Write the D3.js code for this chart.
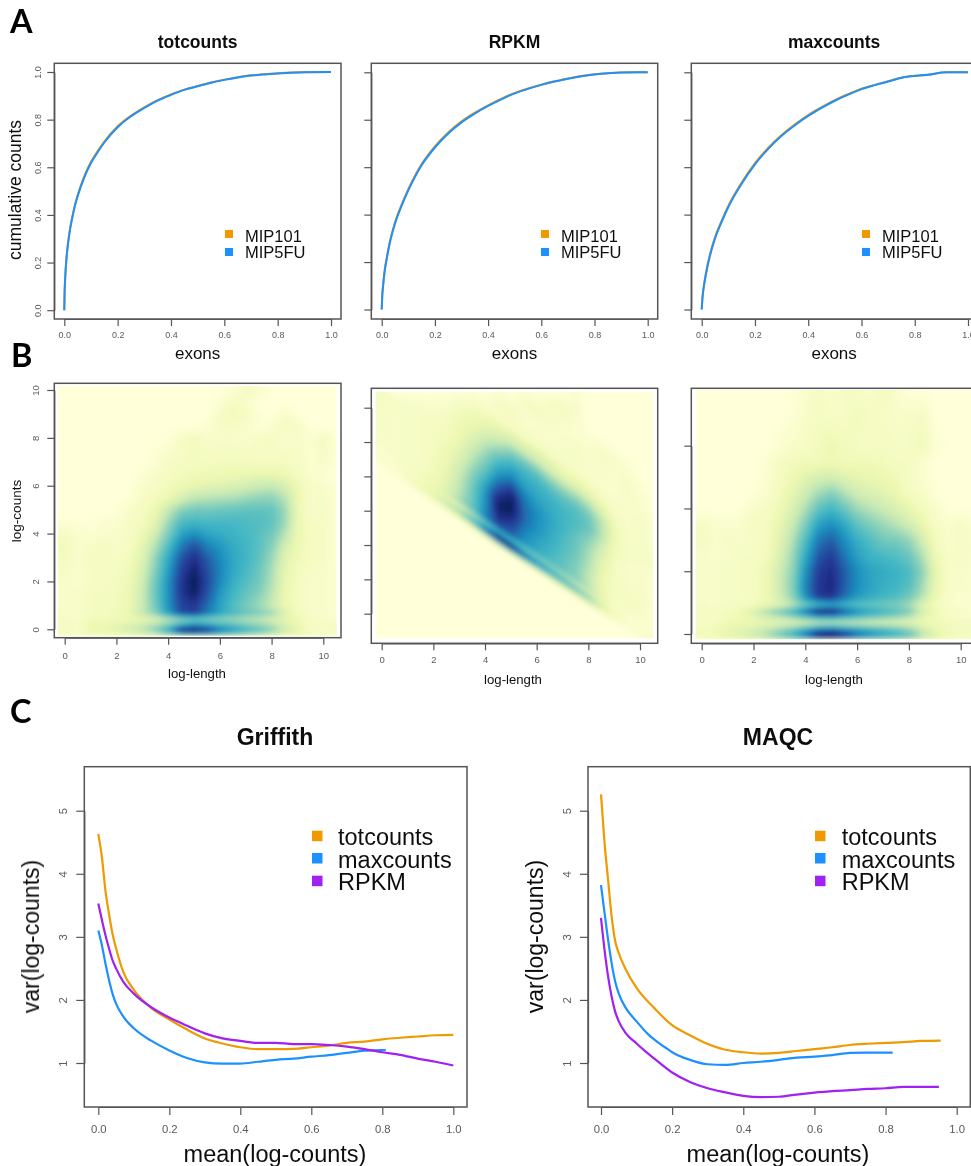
<!DOCTYPE html>
<html><head><meta charset="utf-8">
<script src="https://cdn.jsdelivr.net/npm/d3@7/dist/d3.min.js"></script>
<style>
html,body{margin:0;padding:0;background:#fff;overflow:hidden}
svg{display:block}
text{font-family:"Liberation Sans",Arial,sans-serif}
</style></head><body>
<script>
// ---------- Panel A: cumulative counts ----------
const seriesA = ["MIP101", "MIP5FU"];
const xTot = [0,.001,.002,.005,.01,.02,.03,.04,.05,.075,.1,.125,.15,.2,.25,.3,.35,.4,.45,.5,.55,.6,.65,.7,.75,.8,.85,.9,1];
const totMIP101 = [0,.075,.105,.172,.243,.333,.393,.443,.483,.563,.623,.668,.708,.772,.817,.852,.882,.906,.926,.941,.956,.968,.978,.986,.991,.995,.998,.999,1];
const totMIP5FU = [0,.07,.1,.168,.238,.328,.388,.438,.478,.558,.618,.663,.704,.768,.814,.849,.88,.904,.925,.94,.955,.967,.977,.985,.99,.994,.997,.999,1];
const xRpkm = [0,.002,.005,.01,.02,.03,.05,.075,.1,.15,.2,.25,.3,.35,.4,.45,.5,.55,.6,.65,.7,.75,.8,.85,.9,1];
const rpkmMIP101 = [0,.06,.1,.156,.226,.283,.368,.443,.507,.613,.688,.746,.793,.83,.861,.889,.913,.932,.948,.962,.974,.984,.992,.996,.999,1];
const rpkmMIP5FU = [0,.055,.095,.15,.22,.278,.362,.438,.502,.608,.683,.742,.789,.826,.858,.886,.911,.93,.947,.961,.973,.983,.991,.996,.999,1];
const xMax = [0,.002,.005,.01,.02,.03,.05,.075,.1,.15,.2,.25,.3,.35,.4,.45,.5,.55,.6,.65,.7,.76,.85,.92,1];
const maxMIP101 = [0,.04,.075,.115,.178,.228,.305,.375,.437,.535,.617,.682,.736,.781,.82,.853,.883,.908,.931,.947,.962,.98,.99,1,1];
const maxMIP5FU = [0,.035,.07,.11,.172,.222,.3,.37,.432,.53,.612,.677,.732,.777,.816,.85,.88,.906,.929,.946,.961,.979,.99,1,1];
const ticksA = [0,.2,.4,.6,.8,1];

// ---------- Panel B: smoothed density, one row per log-count level ----------
const logLengthColumns = [0,.5,1,1.5,2,2.5,3,3.5,4,4.5,5,5.5,6,6.5,7,7.5,8,8.5,9,9.5,10,10.5];
const levelsTot = [10.3,10,9.5,9,8.5,8,7,6.5,6,5.5,5,4.5,4,3.5,3,2.5,2,1.5,1,.7,.45,.2,0,-.15,-.3];
const densityTot = [
[0,0,0,0,0,0,0,0,0,0,0,0,0,0,.4,.2,0,0,0,0,0,0],
[0,0,0,0,0,0,0,0,0,0,0,0,0,.2,.6,.4,0,0,0,0,0,0],
[0,0,0,0,0,0,0,0,0,0,0,0,.2,.5,.4,0,0,0,0,0,0,0],
[0,0,0,0,0,0,0,0,0,0,0,0,.5,.8,.5,.2,0,.4,0,0,0,0],
[0,0,0,0,0,0,0,0,0,0,0,.2,.5,.5,.4,.1,.3,.6,.5,0,0,0],
[0,0,0,0,0,0,0,0,.1,.5,.7,.4,.4,.4,.3,.5,.5,.3,.4,.2,.6,.1],
[0,0,0,0,0,0,0,.2,.5,.6,.6,.6,.7,.7,.7,.6,.6,.6,.5,.3,.4,.1],
[0,0,0,0,0,0,.2,.4,.6,.7,.8,.9,.9,1,1,1.1,1.1,.9,.6,.3,.2,0],
[0,0,0,0,0,0,.4,.5,.7,1,1.2,1.3,1.4,1.5,1.7,1.9,2,1.6,.9,.4,.4,.1],
[0,0,0,0,0,.1,.5,.7,1,1.6,2.1,2.2,2.3,2.4,2.6,2.8,2.8,2.2,1,.4,.5,.2],
[0,0,0,0,.1,.4,.6,1,2,2.9,3.2,3.2,3.3,3.4,3.5,3.5,3.4,2.6,1,.4,.5,.2],
[.1,.1,.1,.2,.3,.5,.7,1.3,2.6,3.8,4,3.9,3.9,3.9,3.8,3.7,3.5,2.6,1,.5,.6,.2],
[.5,.3,.2,.3,.4,.5,.9,1.8,3.1,4.6,5,4.5,4.3,4.1,3.9,3.6,3.2,2.2,1,.6,.5,.2],
[.7,.3,.5,.6,.4,.6,1.2,2.3,3.8,5.4,6.3,5.3,4.8,4.3,4,3.6,2.9,1.7,.9,.6,.5,.2],
[.6,.3,.6,.6,.5,.7,1.4,2.8,4.4,6.2,7.2,6,5.1,4.4,4,3.5,2.6,1.4,.8,.6,.5,.2],
[.5,.3,.5,.5,.6,.8,1.6,3,4.7,6.7,7.7,6.3,5.2,4.4,3.9,3.3,2.4,1.2,.7,.5,.4,.2],
[.4,.3,.5,.6,.6,.9,1.8,3.3,5,7,8,6.5,5.1,4.2,3.7,3.2,2.3,1.1,.6,.4,.4,.2],
[.4,.4,.6,.6,.7,1,1.9,3.4,5,7,7.8,6.2,4.8,4,3.4,2.9,2.1,1,.6,.4,.4,.2],
[.4,.4,.6,.6,.7,1,1.9,3.2,5,6.6,6.9,5.7,4.5,3.7,3.1,2.6,1.9,1,.6,.4,.4,.2],
[.4,.4,.6,.6,.8,1.2,2,3,4.7,6.5,6.8,5.5,4.5,3.9,3.4,3,2.6,1.5,.7,.4,.4,.2],
[.5,.4,.7,.7,.8,.9,1.1,1.5,2.2,2.8,3.2,3,2.8,2.6,2.3,2.1,1.7,1.2,.8,.5,.4,.3],
[.6,.4,1,1,1.2,1.5,1.8,2.3,3,4.2,5,4.6,4,3.6,3,2.7,2.2,1.5,1,.5,.5,.5],
[.6,.5,1,1,1.3,1.7,2.2,3,4.5,7.6,8,7,5.5,4.8,4.2,3.6,2.9,1.8,1.2,.6,.5,.6],
[.5,.4,.8,.9,1,1.2,1.6,2.2,3.2,5,5.5,5,4.2,3.6,3,2.6,2,1.4,1,.5,.5,.5],
[.3,.3,.5,.5,.6,.7,.9,1.1,1.6,2.2,2.5,2.3,2,1.8,1.5,1.3,1.1,.8,.6,.4,.4,.4]
];
const levelsRpkm = [14,11,10.5,10,9,8,7,6.5,6,5.5,5,4.5,4,3.5,3,2.5,2,1.5,1,.7,.45,.2,0,-.2,-.5];
const densityRpkm = [
[0,0,0,0,0,0,0,0,0,0,0,0,0,0,0,0,0,0,0,0,0,0],
[0,0,0,0,0,0,0,0,0,0,0,0,0,0,0,.3,0,0,0,0,0,0],
[0,0,0,0,0,0,0,0,0,0,0,0,0,0,.4,.5,0,0,0,0,0,0],
[0,0,0,0,0,0,0,0,0,0,0,0,0,.5,.6,.3,0,0,0,0,0,0],
[0,0,0,0,0,0,0,0,0,0,0,.5,.6,.5,.3,.3,.3,.5,.4,.3,0,0],
[0,0,0,0,0,0,0,0,0,.5,.6,.3,.3,.3,.4,.5,.4,.4,.3,.5,.3,0],
[0,0,0,0,0,0,0,.4,.5,.5,.5,.5,.5,.5,.5,.5,.4,.3,.3,.4,.4,.2],
[0,0,0,0,0,0,.5,.7,.9,1.1,1.3,1.3,1.3,1.2,.9,.9,.8,.6,.4,.4,.5,.3],
[0,0,0,0,0,.3,.7,.9,1.2,1.5,1.9,1.9,1.8,1.6,1.4,1.4,1.3,1,.5,.4,.5,.2],
[0,0,0,0,.2,.5,.8,1.1,1.6,2.2,3,3.1,3,2.6,2.4,2.5,2.2,1.5,.7,.4,.5,.3],
[0,0,0,.3,.4,.6,.9,1.3,2.1,3,3.8,3.9,3.8,3.5,3.3,3.3,3,2.1,.9,.4,.5,.5],
[0,0,.4,.5,.5,.6,1,1.6,2.6,3.8,4.6,4.3,4.2,4,3.8,3.7,3.3,2.2,.9,.5,.5,.5],
[.6,.5,.5,.5,.6,.7,1.1,2,3,4.5,5.3,4.7,4.4,4.2,4,3.8,3.3,2.1,.8,.5,.4,.3],
[.6,.4,.5,.5,.6,.8,1.3,2.3,3.5,5.2,6.5,5.3,4.7,4.4,4,3.6,2.9,1.7,.7,.4,.4,.3],
[.5,.4,.5,.5,.6,.9,1.5,2.7,4,6.1,7.6,5.6,5,4.5,4,3.4,2.6,1.5,.6,.4,.4,.3],
[.5,.4,.5,.5,.6,1,1.8,3,4.6,7.2,8,5.8,5,4.4,3.8,3.3,2.4,1.2,.6,.4,.4,.3],
[.5,.4,.5,.5,.7,1.1,2,3.2,4.9,7.8,7.8,5.7,4.9,4.3,3.7,3.2,2.3,1.1,.6,.5,.5,.3],
[.4,.4,.5,.5,.7,1.2,2.1,3.3,5,7.6,7,5.3,4.6,4.1,3.6,3,2.1,1,.6,.6,.5,.2],
[.4,.4,.5,.6,.8,1.3,2.3,3.4,5.1,6.8,6.2,5,4.4,3.9,3.4,2.9,2,1,.5,.5,.4,.2],
[.3,.4,.5,.6,1,1.6,2.5,3.5,5.3,6.2,5.8,4.8,4.3,3.8,3.5,3,2.3,1.2,.5,.4,.3,.2],
[.3,.3,.5,.6,.8,1.1,1.5,2.2,3.2,3.9,3.8,3.3,3,2.8,2.5,2.2,1.7,1,.5,.3,.3,.3],
[.3,.3,.5,.8,1.1,1.6,2.2,3.2,4.5,6,5.8,4.6,4.2,3.8,3.2,2.7,2.2,1.3,.6,.3,.3,.5],
[.3,.3,.6,.9,1.2,1.9,2.6,3.8,6,7.8,7.8,6,5,4.4,4,3.5,2.8,1.6,.7,.3,.3,.5],
[.1,.2,.3,.5,.7,1,1.3,2,3,4,4,3.3,2.7,2.3,2,1.8,1.5,.8,.4,.2,.2,.3],
[0,0,0,0,0,0,0,0,0,0,0,0,0,0,0,0,0,0,0,0,0,0]
];
const levelsMax = [7.8,7,6,5.5,5,4.5,4,3.5,3,2.5,2,1.5,1.2,.95,.72,.55,.37,.18,0,-.17];
const densityMax = [
[0,0,0,0,0,0,0,0,.3,.5,.3,.5,.5,.3,.7,.3,0,0,0,0,0,0],
[0,0,0,0,0,0,0,.1,.4,.6,.5,.5,.7,.6,.5,.4,.4,.5,0,0,0,0],
[0,0,0,0,0,0,.2,.4,.5,.7,.9,.7,.6,.5,.6,.5,.5,.8,.2,0,0,0],
[0,0,0,0,0,.2,.6,.7,.8,.8,.9,.8,.8,.8,.7,.6,.6,.3,0,0,0,0],
[0,0,0,0,0,.2,.6,.9,1.3,1.6,1.7,1.4,1.2,1.1,1,.8,.5,.3,0,0,0,0],
[0,0,0,0,.1,.3,.7,1.2,1.8,2.5,2.9,2.3,1.7,1.5,1.3,1,.6,.4,.1,0,0,0],
[0,0,0,.1,.4,.5,.9,1.5,2.4,3.5,4,3.3,2.6,2.2,1.9,1.5,1.1,.7,.4,0,0,0],
[.5,.3,.3,.3,.6,.6,1.1,1.9,3.1,4.6,5,4.4,3.5,3,2.6,2.2,1.7,1.1,.5,.3,.5,.3],
[.6,.3,.5,.4,.5,.6,1.3,2.3,3.8,5.5,6,5,4.2,3.7,3.2,3.1,2.7,1.7,.7,.3,.5,.4],
[.4,.3,.4,.5,.5,.7,1.5,2.6,4.4,6.2,6.8,5.5,4.6,4.1,3.9,3.7,3.3,2.3,.9,.4,.5,.4],
[.4,.4,.5,.5,.6,.9,1.8,2.8,5,6.8,7.3,6,5,4.5,4.3,4.1,3.8,2.8,1.2,.4,.4,.3],
[.4,.4,.5,.5,.6,.9,1.8,3,5.3,7,7.4,6,5,4.5,4.2,4,3.6,2.5,1.1,.4,.4,.3],
[.4,.4,.5,.5,.6,.9,1.7,2.8,5,6.8,7.1,5.6,4.7,4.3,4,3.7,3.2,2.2,.9,.4,.3,.3],
[.5,.4,.5,.6,.7,1,1.4,2.2,3.2,3.9,4.3,4,3.6,3.4,3.2,3,2.5,1.4,.7,.4,.3,.3],
[.6,.5,.7,.9,1.5,2.4,3.2,4,5.6,7.5,7.6,6,5,4.4,4,3.6,3,1.6,.9,.5,.4,.3],
[.5,.5,.7,.8,1.2,1.6,2,2.6,3.4,4.3,4.4,4,3.6,3.2,2.9,2.6,2.1,1.3,.8,.5,.4,.4],
[.6,.6,.9,1,1,1.2,1.3,1.5,1.7,2,2.1,2,1.9,1.7,1.6,1.5,1.3,1,.8,.7,.6,.6],
[.7,.7,1.1,1.2,1.5,1.9,2.4,3,4,5,5.3,4.7,4.3,3.9,3.6,3.2,2.6,1.7,1.1,.7,.6,.6],
[.7,.8,1.2,1.4,1.8,2.4,3.2,4.1,5.6,7.8,8,7,5.7,5,4.5,4.1,3.5,2.2,1.3,.8,.6,.7],
[.5,.6,.9,1,1.2,1.6,2,2.6,3.5,5,5.3,4.6,3.8,3.3,3,2.6,2.2,1.5,1,.6,.5,.5]
];
const densityStops = ["#FFFFD9","#EDF8B1","#C7E9B4","#7FCDBB","#41B6C4","#1D91C0","#225EA8","#253494","#081D58"];
const ticksBx = [0,2,4,6,8,10];
const ticksB1y = [0,2,4,6,8,10];
const ticksB2y = [0,2,4,6,8,10,12];
const ticksB3y = [0,2,4,6];
const rpkmShift = 8.9; // log-RPKM = level + shift - log-length

// ---------- Panel C: mean-variance trends ----------
const seriesC = ["totcounts","maxcounts","RPKM"];
const colorsC = ["#EE9A00","#1E90FF","#A020F0"];
const ticksCx = [0,.2,.4,.6,.8,1];
const ticksCy = [1,2,3,4,5];
const gx = [0,.01,.02,.03,.04,.05,.07,.1,.15,.2,.25,.3,.35,.4,.45,.5,.55,.6,.65,.7,.75,.8,.85,.9,.95,1];
const griffithTot = [4.63,4.27,3.74,3.37,3.05,2.82,2.45,2.16,1.87,1.69,1.53,1.39,1.31,1.25,1.22,1.22,1.225,1.25,1.275,1.32,1.34,1.375,1.4,1.42,1.44,1.445];
const griffithRpkm = [3.53,3.27,3.03,2.82,2.63,2.5,2.29,2.1,1.88,1.72,1.59,1.47,1.39,1.35,1.32,1.32,1.3,1.3,1.285,1.26,1.22,1.17,1.13,1.07,1.02,.96];
const gxMax = [0,.01,.02,.03,.04,.05,.07,.1,.15,.2,.25,.3,.35,.4,.45,.5,.55,.6,.65,.7,.75,.8,.81];
const griffithMax = [3.1,2.87,2.58,2.32,2.1,1.94,1.74,1.55,1.35,1.2,1.08,1.01,.99,.99,1.02,1.05,1.07,1.1,1.125,1.16,1.195,1.205,1.205];
const mxTot = [0,.01,.02,.03,.04,.05,.07,.1,.15,.2,.25,.3,.35,.4,.45,.5,.55,.6,.65,.7,.75,.8,.85,.9,.955];
const maqcTot = [5.26,4.49,3.9,3.32,2.93,2.74,2.48,2.19,1.87,1.6,1.44,1.3,1.21,1.17,1.15,1.16,1.19,1.22,1.25,1.285,1.305,1.32,1.33,1.35,1.355];
const mxMax = [0,.01,.02,.03,.04,.05,.07,.1,.13,.15,.18,.2,.25,.3,.35,.4,.45,.5,.55,.6,.65,.7,.75,.82];
const maqcMax = [3.82,3.38,2.95,2.58,2.29,2.1,1.87,1.66,1.47,1.37,1.25,1.17,1.05,.98,.97,1,1.02,1.05,1.085,1.1,1.125,1.16,1.165,1.165];
const mxRpkm = [0,.01,.02,.03,.04,.05,.07,.1,.13,.15,.2,.25,.3,.35,.4,.45,.5,.55,.6,.65,.7,.75,.8,.85,.95];
const maqcRpkm = [3.3,2.79,2.37,2.05,1.81,1.66,1.47,1.31,1.16,1.07,.85,.7,.6,.535,.48,.46,.465,.5,.53,.555,.57,.59,.6,.62,.62];

// ---------- drawing ----------
const W = 971, H = 1166, AXIS = "#555", LABEL = "#5a5a5a", INK = "#111";
const svg = d3.select("body").append("svg").attr("width",W).attr("height",H).attr("viewBox",`0 0 ${W} ${H}`);
const defs = svg.append("defs");
const soft = defs.append("filter").attr("id","soft").attr("filterUnits","userSpaceOnUse")
  .attr("x",0).attr("y",0).attr("width",W).attr("height",H);
soft.append("feGaussianBlur").attr("stdDeviation",0.45);
const softer = defs.append("filter").attr("id","softer").attr("filterUnits","userSpaceOnUse")
  .attr("x",0).attr("y",0).attr("width",W+60).attr("height",H);
softer.append("feGaussianBlur").attr("stdDeviation",2.4);
const root = svg.append("g").attr("filter","url(#soft)");

function axes(box, x, y, xTicks, yTicks, o) {
  const bottom = root.append("g").attr("transform",`translate(0,${box.y1})`)
    .call(d3.axisBottom(x).tickValues(xTicks).tickSize(o.tick).tickSizeOuter(0)
      .tickFormat(o.xFormat));
  const left = root.append("g").attr("transform",`translate(${box.x0},0)`)
    .call(d3.axisLeft(y).tickValues(yTicks).tickSize(o.tick).tickSizeOuter(0)
      .tickFormat(o.yLabels ? o.yFormat : ""));
  [bottom,left].forEach(g=>{
    g.selectAll("path,line").attr("stroke",AXIS).attr("stroke-width",1.2);
    g.selectAll("text").attr("fill",LABEL).attr("font-size",o.tickFont)
      .attr("font-family",'"Liberation Sans",Arial,sans-serif');
  });
  bottom.selectAll("text").attr("y",o.xLabelDy).attr("dy",0);
  left.selectAll("text").attr("x",null).attr("dy",0).attr("text-anchor","middle")
    .attr("transform",`translate(${-o.yLabelDx},0) rotate(-90)`);
  root.append("rect").attr("x",box.x0).attr("y",box.y0).attr("width",box.x1-box.x0).attr("height",box.y1-box.y0)
    .attr("fill","none").attr("stroke",AXIS).attr("stroke-width",1.5);
}
function label(t,x,y,size,opt={}) {
  const s = root.append("text").text(t).attr("font-size",size).attr("fill",opt.fill||INK)
    .attr("text-anchor",opt.anchor||"middle").attr("font-weight",opt.bold?"bold":"normal");
  if (opt.family) s.style("font-family",opt.family);
  if (opt.rotate) s.attr("transform",`translate(${x},${y}) rotate(-90)`);
  else s.attr("x",x).attr("y",y);
}
const lineOf = (x,y)=>d3.line().x(d=>x(d[0])).y(d=>y(d[1])).curve(d3.curveMonotoneX);
function curve(xs,ys,x,y,color,width) {
  root.append("path").datum(d3.zip(xs,ys)).attr("d",lineOf(x,y)).attr("fill","none")
    .attr("stroke",color).attr("stroke-width",width).attr("stroke-linejoin","round").attr("stroke-linecap","butt");
}
function legend(names,colors,sx,tx,sy,ty,sw,size) {
  names.forEach((n,i)=>{
    root.append("rect").attr("x",sx).attr("y",sy[i]).attr("width",sw).attr("height",sw).attr("fill",colors[i]);
    label(n,tx,ty[i],size,{anchor:"start"});
  });
}

// panel letters
const LETTER = 'Lato,"Open Sans",sans-serif';
label("A",10,32.5,32.5,{anchor:"start",bold:true,fill:"#000",family:LETTER});
label("B",11,367,32.5,{anchor:"start",bold:true,fill:"#000",family:LETTER});
label("C",10,723,32.5,{anchor:"start",bold:true,fill:"#000",family:LETTER});

// Panel A
const panelsA = [
 {title:"totcounts",box:{x0:54.3,x1:341,y0:63.3,y1:319},x0:64.3,x1:331,y0:310.2,y1:72,xs:xTot,a:totMIP101,b:totMIP5FU,lab:true,sx:225,tx:245},
 {title:"RPKM",box:{x0:371.3,x1:657.7,y0:63.3,y1:319},x0:381.7,x1:647.7,y0:309.5,y1:72.3,xs:xRpkm,a:rpkmMIP101,b:rpkmMIP5FU,lab:false,sx:541,tx:561},
 {title:"maxcounts",box:{x0:691.3,x1:978,y0:63.3,y1:319},x0:701.7,x1:968,y0:309.5,y1:72.3,xs:xMax,a:maxMIP101,b:maxMIP5FU,lab:false,sx:862,tx:882}
];
panelsA.forEach(p=>{
  const x = d3.scaleLinear().domain([0,1]).range([p.x0,p.x1]);
  const y = d3.scaleLinear().domain([0,1]).range([p.y0,p.y1]);
  curve(p.xs,p.a,x,y,colorsC[0],2);
  curve(p.xs,p.b,x,y,colorsC[1],2);
  axes(p.box,x,y,ticksA,ticksA,{tick:7,tickFont:9,xLabelDy:19,yLabelDx:13.5,yLabels:p.lab,
    xFormat:d3.format(".1f"),yFormat:d3.format(".1f")});
  const cx=(p.box.x0+Math.min(p.box.x1,977))/2;
  label(p.title,cx,48,17.5,{bold:true});
  label("exons",cx,359,17);
  legend(seriesA,colorsC,p.sx,p.tx,[230,248],[241.7,258.3],8,16.5);
});
label("cumulative counts",21,190,17.5,{rotate:true});

// Panel B
const colorScale = d3.scaleLinear().domain(d3.range(9)).range(densityStops).clamp(true).interpolate(d3.interpolateRgb);
function heat(p) {
  const x = d3.scaleLinear().domain([0,10]).range([p.x0,p.x10]);
  const y = d3.scaleLinear().domain(p.yDomain).range(p.yRange);
  const levels = p.levels.slice().reverse();
  const rows = p.density.slice().reverse();
  const cols = logLengthColumns;
  const pad = 10;
  const w = Math.ceil(p.img.x1-p.img.x0)+2*pad, h = Math.ceil(p.img.y1-p.img.y0)+2*pad;
  const cv = document.createElement("canvas"); cv.width=w; cv.height=h;
  const ctx = cv.getContext("2d"); const im = ctx.createImageData(w,h);
  const lookup = d3.range(401).map(i=>d3.rgb(colorScale(i/50)));
  const frac = (arr,v)=>{
    if (v<=arr[0]) return [0,0,0];
    if (v>=arr[arr.length-1]) return [arr.length-1,arr.length-1,0];
    const j = d3.bisectRight(arr,v);
    return [j-1,j,(v-arr[j-1])/(arr[j]-arr[j-1])];
  };
  for (let j=0;j<h;j++) for (let i=0;i<w;i++) {
    const lx = x.invert(p.img.x0-pad+i), ly = y.invert(p.img.y0-pad+j);
    const lv = p.shear ? ly - rpkmShift + lx : ly;
    const [c0,c1,cf] = frac(cols,lx), [r0,r1,rf] = frac(levels,lv);
    let v = (rows[r0][c0]*(1-cf)+rows[r0][c1]*cf)*(1-rf)+(rows[r1][c0]*(1-cf)+rows[r1][c1]*cf)*rf;
    if (lv < levels[0]) v = 0;
    const col = lookup[Math.round(v*50)], k=(j*w+i)*4;
    im.data[k]=col.r; im.data[k+1]=col.g; im.data[k+2]=col.b; im.data[k+3]=255;
  }
  ctx.putImageData(im,0,0);
  defs.append("clipPath").attr("id",p.id).append("rect").attr("x",p.img.x0).attr("y",p.img.y0)
    .attr("width",p.img.x1-p.img.x0).attr("height",p.img.y1-p.img.y0);
  root.append("g").attr("clip-path",`url(#${p.id})`)
    .append("image").attr("href",cv.toDataURL()).attr("x",p.img.x0-pad).attr("y",p.img.y0-pad)
    .attr("width",w).attr("height",h).attr("filter","url(#softer)");
  axes(p.box,x,y,ticksBx,p.yTicks,{tick:7,tickFont:9.5,xLabelDy:p.xDy,yLabelDx:15,yLabels:p.labY,
    xFormat:d3.format("d"),yFormat:d3.format("d")});
  label("log-length",p.labelX,p.labelY,13.2);
}
heat({id:"b1",box:{x0:54.3,x1:341,y0:383.3,y1:637.7},x0:64.7,x10:323.3,yDomain:[0,10],yRange:[629.3,390],
  img:{x0:58,x1:336.7,y0:386,y1:635.7},levels:levelsTot,density:densityTot,yTicks:ticksB1y,labY:true,xDy:21,labelX:197,labelY:678});
heat({id:"b2",box:{x0:371.3,x1:657.7,y0:388.3,y1:643.3},x0:381.7,x10:640,yDomain:[0,12],yRange:[613.7,407.7],shear:true,
  img:{x0:375.7,x1:653.3,y0:391.7,y1:638.3},levels:levelsRpkm,density:densityRpkm,yTicks:ticksB2y,labY:false,xDy:19.5,labelX:513,labelY:684});
heat({id:"b3",box:{x0:691.3,x1:978,y0:388.3,y1:643.3},x0:701.7,x10:960.7,yDomain:[0,6],yRange:[634,445.7],
  img:{x0:695.7,x1:975,y0:390,y1:639.3},levels:levelsMax,density:densityMax,yTicks:ticksB3y,labY:false,xDy:19.5,labelX:834,labelY:684});
label("log-counts",20.5,511,13.5,{rotate:true});

// Panel C
const panelsC = [
 {title:"Griffith",box:{x0:84.3,x1:467,y0:766.7,y1:1107},x0:98.3,x1:453.3,cx:275,yLab:39,sx:312,tx:338,
  s:[[gx,griffithTot],[gxMax,griffithMax],[gx,griffithRpkm]]},
 {title:"MAQC",box:{x0:588,x1:970.3,y0:766.7,y1:1107},x0:601,x1:956.7,cx:778,yLab:543,sx:815,tx:841.7,
  s:[[mxTot,maqcTot],[mxMax,maqcMax],[mxRpkm,maqcRpkm]]}
];
panelsC.forEach(p=>{
  const x = d3.scaleLinear().domain([0,1]).range([p.x0,p.x1]);
  const y = d3.scaleLinear().domain([1,5]).range([1063,810.7]);
  [0,1,2].forEach(i=>curve(p.s[i][0],p.s[i][1],x,y,colorsC[i],2.2));
  axes(p.box,x,y,ticksCx,ticksCy,{tick:8,tickFont:11.3,xLabelDy:26,yLabelDx:17.5,yLabels:true,
    xFormat:d3.format(".1f"),yFormat:d3.format("d")});
  label(p.title,p.cx,745,23,{bold:true});
  label("mean(log-counts)",p.cx,1162,23.5);
  label("var(log-counts)",p.yLab,936.5,23,{rotate:true});
  legend(seriesC,colorsC,p.sx,p.tx,[830.7,853,875.7],[845,867.7,890],10.5,23.5);
});
</script>
</body></html>
